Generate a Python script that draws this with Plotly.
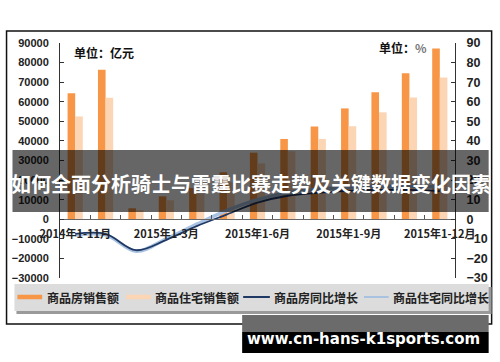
import plotly.graph_objects as go

categories = ["2014年1-11月", "2014年1-12月", "2015年1-2月", "2015年1-3月", "2015年1-4月",
              "2015年1-5月", "2015年1-6月", "2015年1-7月", "2015年1-8月", "2015年1-9月",
              "2015年1-10月", "2015年1-11月", "2015年1-12月"]
shown_labels = ["2014年1-11月", "2015年1-3月", "2015年1-6月", "2015年1-9月", "2015年1-12月"]

sales_all = [64300, 76300, 5600, 11700, 16000, 24000, 34000, 41000, 47400, 56600, 64800, 74500, 87200]
sales_res = [52500, 62000, 4600, 9700, 13000, 18900, 28500, 34700, 41000, 47500, 54600, 62200, 72400]
growth_all = [-7.5, -7.5, -15.8, -10.5, -3.5, 2.5, 8.5, 12.0, 13.5, 14.5, 15.0, 15.0, 14.4]
growth_res = [-8.0, -8.0, -16.3, -10.0, -2.5, 4.5, 10.0, 13.5, 15.3, 16.3, 16.8, 16.8, 16.6]

legend_names = ["商品房销售额", "商品住宅销售额", "商品房同比增长", "商品住宅同比增长"]
title_text = "如何全面分析骑士与雷霆比赛走势及关键数据变化因素"
watermark = "www.cn-hans-k1sports.com"

C_ORANGE = "#f79646"
C_PEACH = "#fcd5b4"
C_NAVY = "#1f3864"
C_SKY = "#a9c2e2"

W_, H_ = 500, 362
L, R, T, B = 58, 457, 43, 278
PW, PH = R - L, B - T


def px(x):
    return (x - L) / PW


def py(y):
    return (B - y) / PH


fig = go.Figure()
fig.add_trace(go.Bar(x=categories, y=sales_all, marker=dict(color=C_ORANGE, line_width=0),
                     name=legend_names[0], yaxis="y"))
fig.add_trace(go.Bar(x=categories, y=sales_res, marker=dict(color=C_PEACH, line_width=0),
                     name=legend_names[1], yaxis="y"))
fig.add_trace(go.Scatter(x=categories, y=growth_res, mode="lines", yaxis="y2",
                         line=dict(color=C_SKY, width=3.5, shape="spline", smoothing=1.0),
                         name=legend_names[3]))
fig.add_trace(go.Scatter(x=categories, y=growth_all, mode="lines", yaxis="y2",
                         line=dict(color=C_NAVY, width=1.8, shape="spline", smoothing=1.0),
                         name=legend_names[2]))

tick_font = dict(family="Liberation Sans, Arial", size=11, color="#222", weight="bold")

fig.update_layout(
    width=W_, height=H_,
    margin=dict(l=L, r=W_ - R, t=T, b=H_ - B, pad=0),
    paper_bgcolor="white", plot_bgcolor="white",
    showlegend=False,
    barmode="group", bargap=0.5, bargroupgap=0,
    xaxis=dict(
        type="category", tickmode="array", tickvals=categories,
        ticktext=[c if c in shown_labels else "" for c in categories],
        tickson="boundaries", ticks="inside", ticklen=4, tickcolor="#555",
        anchor="free", position=0.25, showline=True, linecolor="#666", linewidth=1,
        showgrid=False, zeroline=False, tickangle=0, ticklabelstandoff=5,
        tickfont=dict(family="Noto Sans CJK SC, Liberation Sans", size=11, color="#222", weight="bold"),
        range=[-0.5, 12.5],
    ),
    yaxis=dict(
        range=[-30000, 90000], dtick=10000, tick0=-30000, ticks="inside", ticklen=4,
        tickformat="d",
        tickcolor="#333", showline=True, linecolor="#333", linewidth=1,
        showgrid=False, zeroline=False, tickfont=tick_font, ticklabelstandoff=8,
    ),
    yaxis2=dict(
        range=[-30, 90], dtick=10, tick0=-30, overlaying="y", side="right", ticks="inside",
        ticklen=4, tickcolor="#333", showline=True, linecolor="#333", linewidth=1,
        showgrid=False, zeroline=False, ticklabelstandoff=8, tickformat="d",
        tickfont=dict(family="Liberation Sans, Arial", size=12.5, color="#222", weight="bold"),
    ),
)

shapes = []
# outer frame
shapes.append(dict(type="rect", xref="paper", yref="paper", x0=px(4), x1=px(494), y0=py(31), y1=py(324),
                   line=dict(color="#111", width=1.5), fillcolor="rgba(0,0,0,0)", layer="below"))
# legend box with shadow
shapes.append(dict(type="rect", xref="paper", yref="paper", x0=px(14), x1=px(494), y0=py(287), y1=py(314),
                   line=dict(width=0), fillcolor="#9a9a9a", layer="above"))
shapes.append(dict(type="rect", xref="paper", yref="paper", x0=px(12), x1=px(491), y0=py(284), y1=py(311),
                   line=dict(width=0), fillcolor="#dcdcdc", layer="above"))
leg_y = py(297)
swatches = [(15, 40, C_ORANGE, 4.5), (125, 150, C_PEACH, 4.5), (243, 270, C_NAVY, 2), (365, 390, C_SKY, 2)]
text_x = [43, 152, 272, 392]
for (x0, x1, col, w) in swatches:
    shapes.append(dict(type="line", xref="paper", yref="paper", x0=px(x0), x1=px(x1), y0=leg_y, y1=leg_y,
                       line=dict(color=col, width=w), layer="above"))
# banner
shapes.append(dict(type="rect", xref="paper", yref="paper", x0=px(10), x1=px(491), y0=py(150), y1=py(212),
                   line=dict(width=0), fillcolor="rgba(0,0,0,0.6)", layer="above"))
# watermark box
shapes.append(dict(type="rect", xref="paper", yref="paper", x0=px(242), x1=px(491), y0=py(315), y1=py(332),
                   line=dict(width=0), fillcolor="#6b6b6b", layer="above"))
shapes.append(dict(type="rect", xref="paper", yref="paper", x0=px(242), x1=px(491), y0=py(332), y1=py(353),
                   line=dict(width=0), fillcolor="#000000", layer="above"))
fig.update_layout(shapes=shapes)

ann = []
for name, tx in zip(legend_names, text_x):
    ann.append(dict(text=name, xref="paper", yref="paper", x=px(tx), y=leg_y, xanchor="left", yanchor="middle",
                    showarrow=False, font=dict(family="Noto Sans CJK SC", size=12, color="#222", weight="bold")))
ann.append(dict(text="单位：亿元", xref="paper", yref="paper", x=px(70), y=py(53), xanchor="left", yanchor="middle",
                showarrow=False, font=dict(family="Noto Sans CJK SC", size=12, color="#111", weight="bold")))
ann.append(dict(text="单位：<span style='color:#777'>%</span>", xref="paper", yref="paper", x=px(431), y=py(47),
                xanchor="right", yanchor="middle",
                showarrow=False, font=dict(family="Noto Sans CJK SC", size=12, color="#111", weight="bold")))
ann.append(dict(text=title_text, xref="paper", yref="paper", x=px(250.5), y=py(183), xanchor="center",
                yanchor="middle", showarrow=False,
                font=dict(family="Noto Sans CJK SC", size=20, color="white", weight="bold")))
ann.append(dict(text=watermark, xref="paper", yref="paper", x=px(365), y=py(339), xanchor="center",
                yanchor="middle", showarrow=False,
                font=dict(family="DejaVu Sans", size=15, color="white", weight="bold")))
fig.update_layout(annotations=ann)

fig.write_html("out.html")
